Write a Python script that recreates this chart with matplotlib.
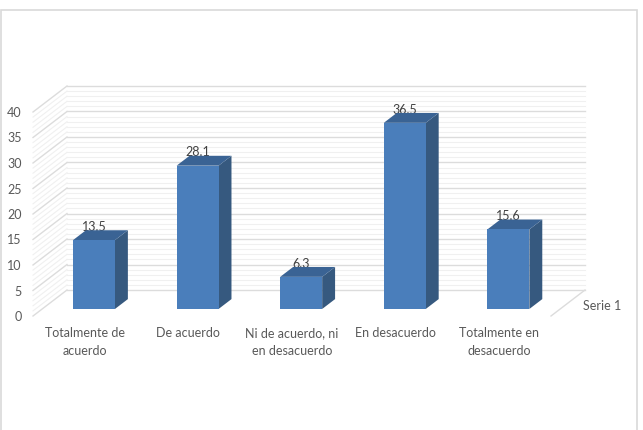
import numpy as np
import matplotlib
matplotlib.use("Agg")
import matplotlib.pyplot as plt
from matplotlib.patches import Polygon, Rectangle

plt.rcParams['font.family'] = ['Lato', 'DejaVu Sans']

# datos
categorias = ["Totalmente de\nacuerdo", "De acuerdo", "Ni de acuerdo, ni\nen desacuerdo",
              "En desacuerdo", "Totalmente en\ndesacuerdo"]
valores = [13.5, 28.1, 6.3, 36.5, 15.6]
serie = "Serie 1"
yticks = [0, 5, 10, 15, 20, 25, 30, 35, 40]

# colores
c_front = "#4a7ebb"
c_side = "#36597f"
c_top = "#3a6394"
c_grid = "#dcdcdc"
c_minor = "#f0f0f0"
c_text = "#595959"

fig = plt.figure(figsize=(6.43, 4.30), dpi=100)
fig.patch.set_facecolor("white")
fig.patches.append(Rectangle((1 / 643, -0.01), 636 / 643, 424 / 430, transform=fig.transFigure,
                             fill=False, edgecolor="#d9d9d9", lw=1.2))

# el eje es el plano frontal del grafico 3D
ax = fig.add_axes([33 / 643, (430 - 316) / 430, 518 / 643, 204 / 430])
ax.set_xlim(-0.5, len(valores) - 0.5)
ax.set_ylim(0, 40)
for s in ax.spines.values():
    s.set_visible(False)
ax.set_facecolor("none")

# desplazamiento de profundidad (en unidades de datos)
DX = 34 / 103.6
DY = 26 / 5.1

x_left, x_right = -0.5, len(valores) - 0.5

# pared del fondo y pared lateral con lineas de cuadricula
for v in np.arange(0, 40.5, 1):
    major = v % 5 == 0
    col = c_grid if major else c_minor
    lw = 1.0 if major else 0.8
    z = 1 if major else 0.5
    ax.plot([x_left + DX, x_right + DX], [v + DY, v + DY], color=col, lw=lw, clip_on=False, zorder=z)
    ax.plot([x_left, x_left + DX], [v, v + DY], color=col, lw=lw, clip_on=False, zorder=z)
# borde derecho del piso
ax.plot([x_right, x_right + DX], [0, DY], color=c_grid, lw=1.0, clip_on=False, zorder=1)

# barras con caras laterales y superiores
f0, f1 = 0.27, 0.65
w = 0.405
ox, oy = DX * f0, DY * f0
ddx, ddy = DX * (f1 - f0), DY * (f1 - f0)
for i, v in enumerate(valores):
    xc = i + ox
    xl, xr = xc - w / 2, xc + w / 2
    ax.text(xc, oy + v + 2.6, f"{v}", ha="center", va="center", fontsize=9,
            color="#404040", zorder=2, clip_on=False)
    ax.bar(xc, v, width=w, bottom=oy, color=c_front, zorder=5, clip_on=False)
    side = Polygon([(xr, oy), (xr + ddx, oy + ddy), (xr + ddx, oy + ddy + v), (xr, oy + v)],
                   closed=True, facecolor=c_side, edgecolor="none", zorder=4, clip_on=False)
    top = Polygon([(xl, oy + v), (xr, oy + v), (xr + ddx, oy + v + ddy), (xl + ddx, oy + v + ddy)],
                  closed=True, facecolor=c_top, edgecolor="none", zorder=4, clip_on=False)
    ax.add_patch(side)
    ax.add_patch(top)

ax.set_yticks(yticks)
ax.set_yticklabels([str(t) for t in yticks])
ax.set_xticks(range(len(categorias)))
ax.set_xticklabels(categorias, linespacing=1.55)
ax.tick_params(axis="both", length=0, labelsize=9, colors=c_text)
ax.tick_params(axis="y", pad=8)
ax.tick_params(axis="x", pad=8)

ax.text(x_right + 0.31, 1.96, serie, ha="left", va="center", fontsize=9, color=c_text, clip_on=False)

fig.savefig("out.png", dpi=100)
